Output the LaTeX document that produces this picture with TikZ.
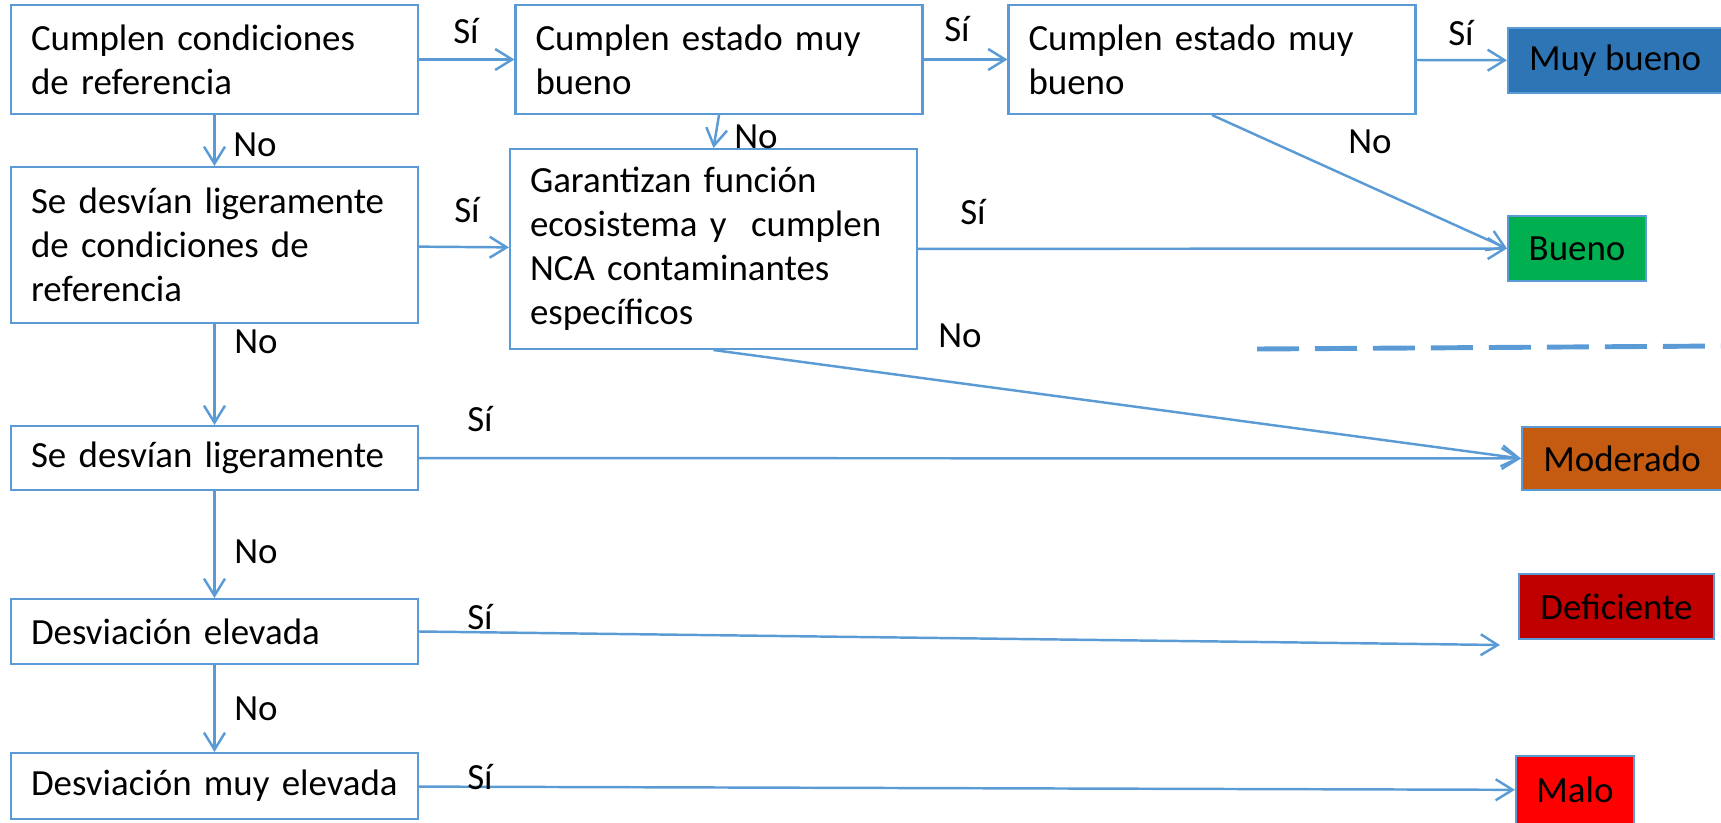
\documentclass[tikz,border=0pt]{standalone}
\usepackage{fontspec}
\setmainfont{Carlito}
\usepackage{xcolor}
\usetikzlibrary{arrows.meta, positioning}

\definecolor{linkblue}{RGB}{91,155,213}
\definecolor{muybuenofill}{RGB}{46,117,182}
\definecolor{buenofill}{RGB}{0,176,80}
\definecolor{moderadofill}{RGB}{197,90,17}
\definecolor{deficientefill}{RGB}{192,0,0}
\definecolor{malofill}{RGB}{255,0,0}

\begin{document}
\begin{tikzpicture}[x=0.02cm, y=-0.02cm, >={Straight Barb[length=0.34cm, width=0.42cm]}, every node/.style={font=\fontsize{21pt}{25pt}\selectfont}]
    % Define styles for question boxes, grade boxes, edges and labels
    \tikzstyle{block} = [draw=linkblue, line width=1.2pt, fill=white, rectangle, text width=7.34cm, inner xsep=0.4cm, align=left]
    \tikzstyle{grade} = [draw=linkblue, line width=1.2pt, rectangle, text=black, align=center]
    \tikzstyle{link} = [draw=linkblue, line width=1.4pt, ->]
    \tikzstyle{lbl} = [inner sep=0pt]

    \useasboundingbox (0,0) rectangle (1721,822);

    % Nodes placement
    \node [block, minimum height=2.18cm] (cond) at (214.5,59.5) {Cumplen condiciones\\de referencia};
    \node [block, minimum height=2.18cm] (estado1) at (719,59.5) {Cumplen estado muy\\bueno};
    \node [block, minimum height=2.18cm] (estado2) at (1212,59.5) {Cumplen estado muy\\bueno};
    \node [block, minimum height=3.12cm] (leve1) at (214.5,245) {Se desvían ligeramente\\de condiciones de\\referencia};
    \node [block, minimum height=4cm] (func) at (713.5,249) {Garantizan función\\ecosistema y \ cumplen\\NCA contaminantes\\específicos};
    \node [block, minimum height=1.28cm] (leve2) at (214.5,458) {Se desvían ligeramente};
    \node [block, minimum height=1.3cm] (elev) at (214.5,631.5) {Desviación elevada};
    \node [block, minimum height=1.32cm] (muyelev) at (214.5,786) {Desviación muy elevada};

    \node [grade, fill=muybuenofill, minimum width=4.28cm, minimum height=1.3cm] (muybueno) at (1615,60.5) {Muy bueno};
    \node [grade, fill=buenofill, minimum width=2.76cm, minimum height=1.3cm] (bueno) at (1577,248.5) {Bueno};
    \node [grade, fill=moderadofill, minimum width=4cm, minimum height=1.26cm] (moderado) at (1622,458.5) {Moderado};
    \node [grade, fill=deficientefill, minimum width=3.9cm, minimum height=1.3cm] (deficiente) at (1616.5,606.5) {Deficiente};
    \node [grade, fill=malofill, minimum width=2.36cm, minimum height=1.36cm] (malo) at (1575,790) {Malo};

    \coordinate (deftip) at (1500,645);
    \coordinate (sepL) at (1257,349);
    \coordinate (sepR) at (1721,346);

    % Draw edges
    \draw[link] (cond) -- (estado1);
    \draw[link] (estado1) -- (estado2);
    \draw[link] (estado2) -- (muybueno);
    \draw[link] (estado1.south) -- (func.north);
    \draw[link] (estado2.south) -- (bueno.west);
    \draw[link] (cond) -- (leve1);
    \draw[link] (leve1) -- (func);
    \draw[link] (func) -- (bueno);
    \draw[link] (func.south) -- (moderado.west);
    \draw[link] (leve1) -- (leve2);
    \draw[link] (leve2) -- (moderado);
    \draw[link] (leve2) -- (elev);
    \draw[link] (elev.east) -- (deftip);
    \draw[link] (elev) -- (muyelev);
    \draw[link] (muyelev) -- (malo);

    % Dashed separator
    \draw[linkblue, line width=2.8pt, dash pattern=on 0.84cm off 0.32cm] (sepL) -- (sepR);

    % Labeling the edges
    \node [lbl] (si1) at (466,31) {Sí};
    \node [lbl] (si2) at (957,29) {Sí};
    \node [lbl] (si3) at (1461,33) {Sí};
    \node [lbl] (no1) at (756,137) {No};
    \node [lbl] (no2) at (1370,142) {No};
    \node [lbl] (no3) at (255,145) {No};
    \node [lbl] (si4) at (467,210) {Sí};
    \node [lbl] (si5) at (973,212) {Sí};
    \node [lbl] (no4) at (960,336) {No};
    \node [lbl] (no5) at (256,342) {No};
    \node [lbl] (si6) at (480,419) {Sí};
    \node [lbl] (no6) at (256,552) {No};
    \node [lbl] (si7) at (480,617) {Sí};
    \node [lbl] (no7) at (256,709) {No};
    \node [lbl] (si8) at (480,777) {Sí};
\end{tikzpicture}
\end{document}
